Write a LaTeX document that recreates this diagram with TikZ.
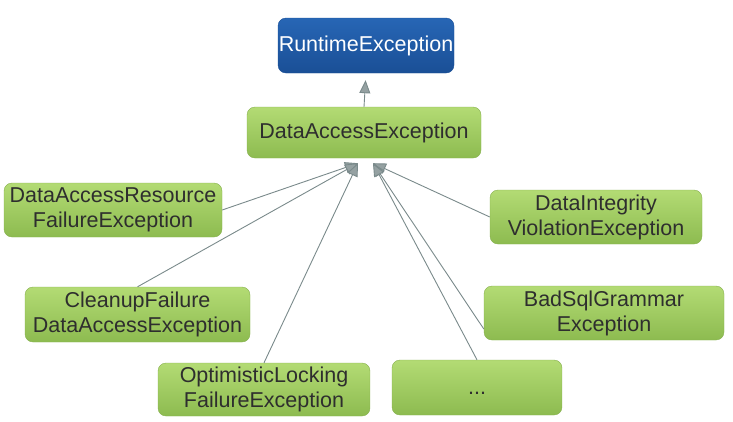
\documentclass[tikz,border=0pt]{standalone}
\usepackage{fontspec}
\setmainfont{Liberation Sans}
\usetikzlibrary{arrows.meta}

\definecolor{exctop}{HTML}{B3DB74}
\definecolor{excbot}{HTML}{8DBB50}
\definecolor{excline}{HTML}{86B04E}
\definecolor{exctext}{HTML}{2E2E2E}
\definecolor{rttop}{HTML}{2766B5}
\definecolor{rtbot}{HTML}{1A4F96}
\definecolor{inherit}{HTML}{7A8A8B}

\tikzset{
  exc/.style={draw=excline, rounded corners=8pt, top color=exctop, bottom color=excbot,
    text=exctext, align=center, inner sep=0pt,
    font=\fontsize{21.5}{25}\selectfont},
  rt/.style={exc, draw=rtbot, top color=rttop, bottom color=rtbot, text=white},
  sub/.style={draw=inherit, line width=0.9pt,
    -{Triangle[length=13pt, width=11pt, fill=inherit!80]}}
}

\begin{document}
\begin{tikzpicture}[x=1pt, y=-1pt]
\useasboundingbox (0,0) rectangle (733,421);

\node[rt, minimum width=176pt, minimum height=55pt] (runtime) at (366,45.5) {RuntimeException};
\node[exc, minimum width=234pt, minimum height=51pt] (dae) at (364,132.5) {DataAccessException};

\node[exc, minimum width=218pt, minimum height=54pt] (resource) at (113,210) {DataAccessResource\\FailureException};
\node[exc, minimum width=225pt, minimum height=55pt] (cleanup) at (137.5,314.5) {CleanupFailure\\DataAccessException};
\node[exc, minimum width=212pt, minimum height=53pt] (optimistic) at (264,389.5) {OptimisticLocking\\FailureException};

\node[exc, minimum width=212pt, minimum height=54pt] (integrity) at (596,217) {DataIntegrity\\ViolationException};
\node[exc, minimum width=240pt, minimum height=54pt] (badsql) at (604,313) {BadSqlGrammar\\Exception};
\node[exc, minimum width=170pt, minimum height=55pt, text height=14pt, text depth=0pt] (others) at (477,387.5) {...};

\coordinate (inL) at ([xshift=-6pt, yshift=-5pt]dae.south);
\coordinate (inR) at ([xshift=9pt, yshift=-5pt]dae.south);

\draw[sub, shorten >=7pt] (dae.north) -- (runtime.south);

\draw[sub] (resource.east) -- (inL);
\draw[sub] (cleanup.north) -- (inL);
\draw[sub] (optimistic.north) -- (inL);

\draw[sub] (integrity.west) -- (inR);
\draw[sub] ([yshift=-16pt]badsql.west) -- (inR);
\draw[sub] (others.north) -- (inR);

\end{tikzpicture}
\end{document}
